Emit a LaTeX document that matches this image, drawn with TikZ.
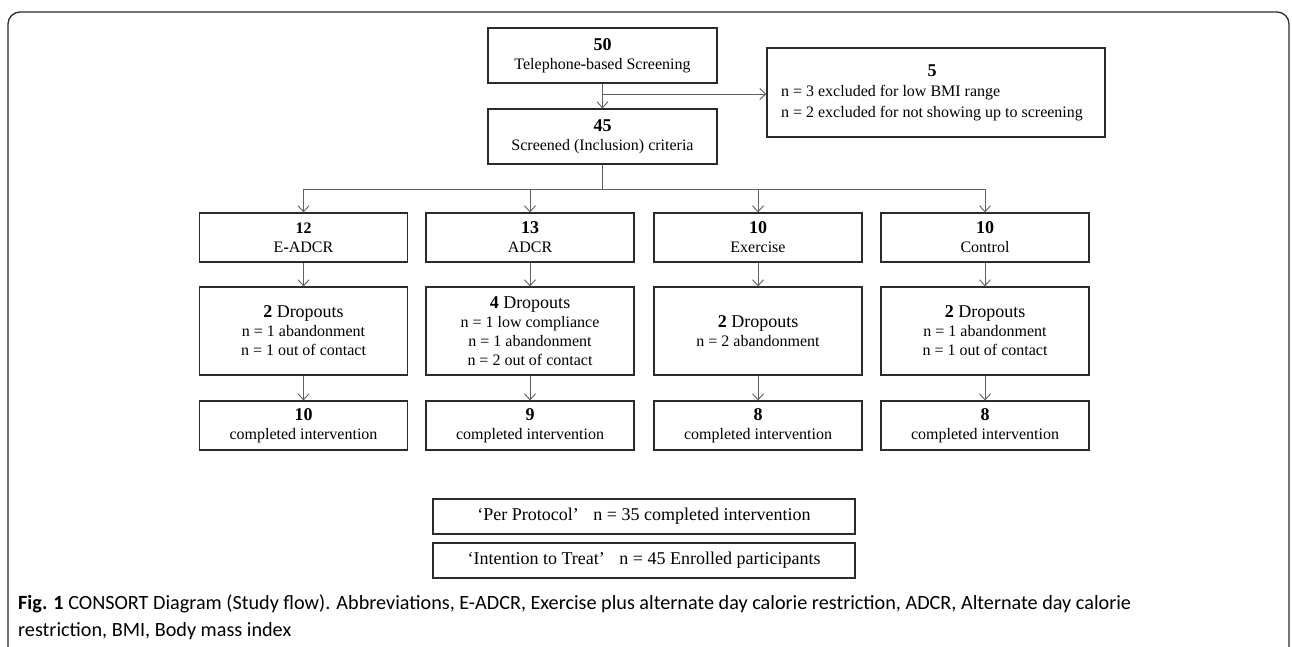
\documentclass[tikz,border=0pt]{standalone}
\usepackage{fontspec}
\setmainfont{Liberation Serif}
\newfontfamily\capfont{Carlito}
\usetikzlibrary{arrows.meta}
\definecolor{boxgray}{HTML}{2B2B2B}
\definecolor{linkgray}{HTML}{606060}
\newcommand{\cnt}[1]{{\fontsize{18}{19}\selectfont\bfseries #1}}
\newcommand{\drop}[1]{{\fontsize{18}{20}\selectfont\textbf{#1} Dropouts}}

\begin{document}
\begin{tikzpicture}[x=1pt,y=-1pt,
  box/.style={draw=boxgray,line width=1.2pt,minimum width=208pt,minimum height=49pt,
    inner sep=0pt,align=center,font=\fontsize{16}{19}\selectfont},
  wide/.style={box,minimum width=229pt,minimum height=55pt},
  tall/.style={box,minimum height=88pt},
  link/.style={draw=linkgray,line width=0.9pt,-{Straight Barb[length=6pt,width=11pt]}},
  trunk/.style={draw=linkgray,line width=0.9pt}]
\useasboundingbox (0,0) rectangle (1292,647);
\draw[boxgray,line width=1.3pt,rounded corners=12pt] (8,660) -- (8,12) -- (1289,12) -- (1289,660);

% screening
\node[wide] (phone) at (602.5,55.5) {\cnt{50}\\Telephone\textbf{-}based Screening};
\node[wide] (incl) at (602.5,136.5) {\cnt{45}\\Screened (Inclusion) criteria};
\node[box,minimum width=338pt,minimum height=89pt,font=\fontsize{16}{20.5}\selectfont] (excl) at (936,92.5)
  {\hspace*{-8pt}\begin{tabular}{@{}l@{}}\multicolumn{1}{@{}c@{}}{\cnt{5}}\\
   n = 3 excluded for low BMI range\\
   n = 2 excluded for not showing up to screening\end{tabular}};
\coordinate (split) at (602.5,94);
\draw[link] (phone) -- (incl);
\draw[link] (split) -- (split -| excl.west);

% groups
\node[box] (eadcr) at (303.5,237.5) {{\bfseries 12}\\E\textbf{-}ADCR};
\node[box] (adcr) at (530,237.5) {\cnt{13}\\ADCR};
\node[box] (exer) at (758,237.5) {\cnt{10}\\Exercise};
\node[box] (ctrl) at (985,237.5) {\cnt{10}\\Control};
\coordinate (fork) at (602.5,189);
\draw[trunk] (incl) -- (fork);
\draw[trunk] (eadcr.north |- fork) -- (ctrl.north |- fork);
\draw[link] (eadcr.north |- fork) -- (eadcr);
\draw[link] (adcr.north |- fork) -- (adcr);
\draw[link] (exer.north |- fork) -- (exer);
\draw[link] (ctrl.north |- fork) -- (ctrl);

% dropouts
\node[tall] (eadcrdrop) at (303.5,331) {\drop{2}\\n = 1 abandonment\\n = 1 out of contact};
\node[tall] (adcrdrop) at (530,331) {\drop{4}\\n = 1 low compliance\\n = 1 abandonment\\n = 2 out of contact};
\node[tall] (exerdrop) at (758,331) {\drop{2}\\n = 2 abandonment};
\node[tall] (ctrldrop) at (985,331) {\drop{2}\\n = 1 abandonment\\n = 1 out of contact};
\draw[link] (eadcr) -- (eadcrdrop);
\draw[link] (adcr) -- (adcrdrop);
\draw[link] (exer) -- (exerdrop);
\draw[link] (ctrl) -- (ctrldrop);

% completed
\node[box] (eadcrdone) at (303.5,425.5) {\cnt{10}\\completed intervention};
\node[box] (adcrdone) at (530,425.5) {\cnt{9}\\completed intervention};
\node[box] (exerdone) at (758,425.5) {\cnt{8}\\completed intervention};
\node[box] (ctrldone) at (985,425.5) {\cnt{8}\\completed intervention};
\draw[link] (eadcrdrop) -- (eadcrdone);
\draw[link] (adcrdrop) -- (adcrdone);
\draw[link] (exerdrop) -- (exerdone);
\draw[link] (ctrldrop) -- (ctrldone);

% analysis sets
\node[box,minimum width=422pt,minimum height=35pt,font=\fontsize{18}{20}\selectfont] (pp) at (644,516.5)
  {‘Per Protocol’\hspace{10pt} n = 35 completed intervention};
\node[box,minimum width=422pt,minimum height=35pt,font=\fontsize{18}{20}\selectfont] (itt) at (644,560.5)
  {‘Intention to Treat’\hspace{10pt} n = 45 Enrolled participants};

\node[anchor=west,align=left,inner sep=0pt,font=\capfont\fontsize{20.2}{27}\selectfont] (caption) at (18,617)
  {\textbf{Fig. 1} CONSORT Diagram (Study flow). Abbreviations, E-ADCR, Exercise plus alternate day calorie restriction, ADCR, Alternate day calorie\\
   restriction, BMI, Body mass index};
\end{tikzpicture}
\end{document}
